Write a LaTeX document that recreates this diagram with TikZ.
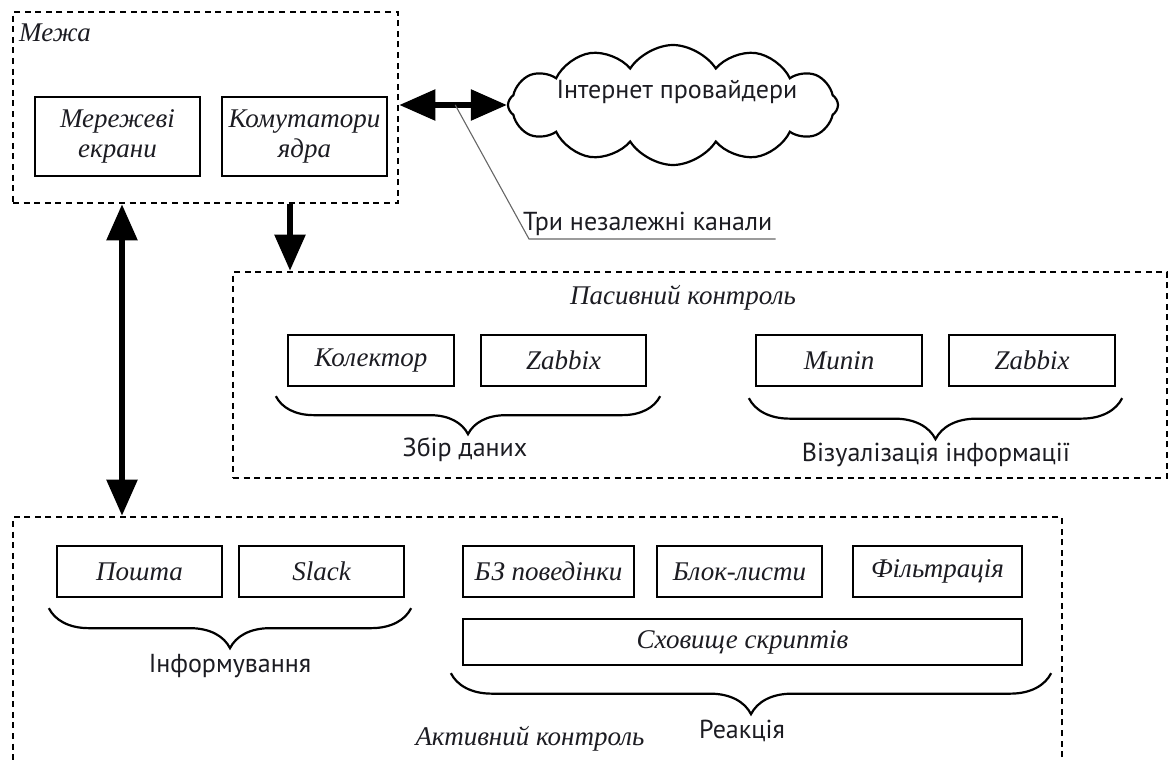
\documentclass[tikz,border=0pt]{standalone}
\usepackage{fontspec}
\setmainfont{Liberation Serif}
\newfontfamily\lblfont{PT Sans}
\usetikzlibrary{shapes.symbols,decorations.pathreplacing,arrows.meta,calc}
\definecolor{ink}{RGB}{28,28,34}

\begin{document}
\begin{tikzpicture}[x=1pt,y=-1pt,
  every node/.style={text=ink},
  dashbox/.style={draw, line width=2.6pt, dash pattern=on 6pt off 4.6pt, inner sep=0pt},
  itembox/.style={draw, line width=2.3pt, inner sep=0pt, align=center,
    font=\fontsize{27}{30}\selectfont\itshape},
  ital/.style={font=\fontsize{27}{30}\selectfont\itshape, inner sep=0pt},
  lbl/.style={font=\lblfont\fontsize{26}{30}\selectfont, inner sep=0pt},
  bigarrow/.style={line width=5.5pt, {Triangle[length=36pt,width=30pt]}-{Triangle[length=36pt,width=30pt]}},
  downarrow/.style={line width=5.5pt, -{Triangle[length=36pt,width=30pt]}},
  curly/.style={line width=2.2pt, decorate, decoration={brace, mirror, amplitude=#1, aspect=0.5}},
  curly/.default=39pt,
  callout/.style={line width=1.1pt, draw=black!60},
]
\clip (0,0) rectangle (1169,760);

% --- Border zone ---
\node[dashbox, minimum width=385pt, minimum height=191pt] (meja) at (205.5,107.5) {};
\node[ital, anchor=north west] (mejalbl) at (19,24) {Межа};
\node[itembox, minimum width=165pt, minimum height=79pt] (fw) at (117.5,136.5) {Мережеві\\екрани};
\node[itembox, minimum width=165pt, minimum height=79pt] (core) at (304.5,136.5) {Комутатори\\ядра};

% --- Internet providers ---
\node[cloud, draw, line width=2.2pt, cloud puffs=12, cloud puff arc=115, aspect=2.8,
      minimum width=330pt, minimum height=120pt, inner sep=0pt] (isp) at (673,105) {};
\node[lbl] (isplbl) at (677,92) {Інтернет провайдери};

\draw[bigarrow] (meja.east |- isp.west) -- (isp.west);
\coordinate (tap) at ($(meja.east |- isp.west)!0.52!(isp.west)$);
\node[lbl, anchor=south west, inner ysep=3pt] (chan) at (523,239) {Три незалежні канали};
\draw[callout] (tap) -- ($(chan.south west)+(6,0)$) -- ($(chan.south east)+(3,0)$);

% --- Passive control ---
\node[dashbox, minimum width=934pt, minimum height=206pt] (passive) at (700,375) {};
\node[ital] (passlbl) at (683,298) {Пасивний контроль};
\node[itembox, minimum width=166pt, minimum height=51pt] (coll) at (371,360.5) {Колектор};
\node[itembox, minimum width=165pt, minimum height=51pt] (zab1) at (563.5,360.5) {Zabbix};
\node[itembox, minimum width=166pt, minimum height=51pt] (munin) at (839,360.5) {Munin};
\node[itembox, minimum width=166pt, minimum height=51pt] (zab2) at (1032,360.5) {Zabbix};
\draw[curly=38pt] ($(coll.south west)+(-11,9)$) -- ($(zab1.south east)+(13,9)$);
\node[lbl] (collect) at (465,450) {Збір даних};
\draw[curly=41pt] ($(munin.south west)+(-6,11)$) -- ($(zab2.south east)+(6,11)$);
\node[lbl] (visual) at (936,455) {Візуалізація інформації};

\draw[downarrow] ([xshift=-14.5pt]core.south |- meja.south) -- ([xshift=-14.5pt]core.south |- passive.north);

% --- Active control ---
\node[dashbox, minimum width=1049pt, minimum height=283pt] (active) at (537.5,658.5) {};
\node[ital] (actlbl) at (530,739) {Активний контроль};
\node[itembox, minimum width=165pt, minimum height=51pt] (mail) at (139.5,571.5) {Пошта};
\node[itembox, minimum width=165pt, minimum height=51pt] (slack) at (321.5,571.5) {Slack};
\draw[curly=40pt] ($(mail.south west)+(-7,10)$) -- ($(slack.south east)+(6,10)$);
\node[lbl] (inform) at (230,666) {Інформування};

\node[itembox, minimum width=171pt, minimum height=51pt] (bz) at (548.5,571.5) {БЗ поведінки};
\node[itembox, minimum width=165pt, minimum height=51pt] (block) at (739.5,571.5) {Блок-листи};
\node[itembox, minimum width=169pt, minimum height=51pt] (filt) at (937.5,571.5) {Фільтрація};
\node[itembox, minimum width=559pt, minimum height=46pt] (store) at (742.5,642) {Сховище скриптів};
\draw[curly=41pt] ($(store.south west)+(-11,7)$) -- ($(store.south east)+(28,7)$);
\node[lbl] (react) at (742,731) {Реакція};

% --- Border zone <-> active control ---
\draw[bigarrow] (122,0 |- meja.south) -- (122,0 |- active.north);
\end{tikzpicture}
\end{document}
